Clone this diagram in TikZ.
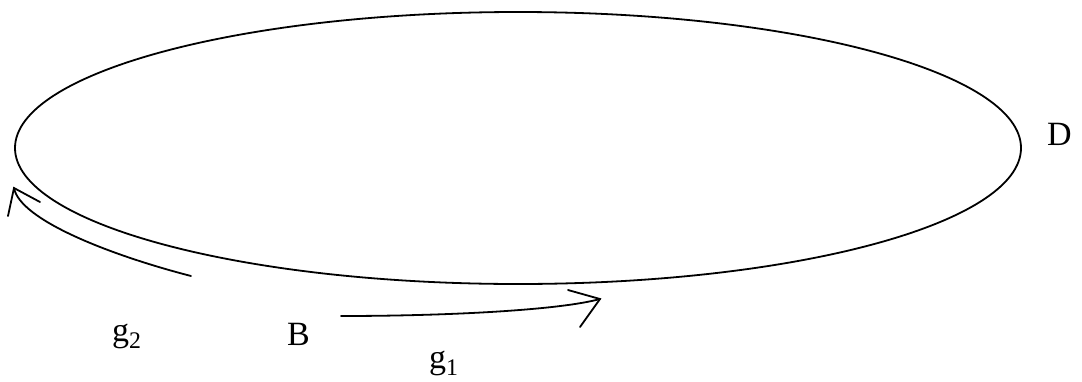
\documentclass[tikz,border=0pt]{standalone}
\usepackage{fontspec}
\setmainfont{Liberation Serif}
\usetikzlibrary{shapes.geometric}
\begin{document}
\begin{tikzpicture}[x=1pt,y=-1pt,
  curve/.style={line width=1.8pt, line cap=round},
  lbl/.style={inner sep=0pt, anchor=base west, font=\fontsize{34}{40}\selectfont}]
\useasboundingbox (0,0) rectangle (1082,381);
\node[draw, ellipse, line width=1.8pt, minimum width=1006pt, minimum height=272pt, inner sep=0pt] (region) at (518,148) {};
\node[lbl] (D) at (1047,145) {D};
\node[lbl] (B) at (287,345) {B};
\node[lbl] (g2) at (112,341) {g\textsubscript{2}};
\node[lbl] (g1) at (429,368) {g\textsubscript{1}};
% g1 arrow
\coordinate (g1s) at (341,316);
\coordinate (g1t) at (600,299);
\coordinate (g1a) at (568,290);
\coordinate (g1b) at (580,327);
\draw[curve] (g1s) .. controls (450,316) and (560,310) .. (g1t);
\draw[curve] (g1a) -- (g1t) -- (g1b);
% g2 arrow
\coordinate (g2s) at (191,276);
\coordinate (g2t) at (14,188);
\coordinate (g2a) at (8,216);
\coordinate (g2b) at (40,202);
\draw[curve] (g2s) .. controls (110,255) and (20,220) .. (g2t);
\draw[curve] (g2a) -- (g2t) -- (g2b);
\end{tikzpicture}
\end{document}
